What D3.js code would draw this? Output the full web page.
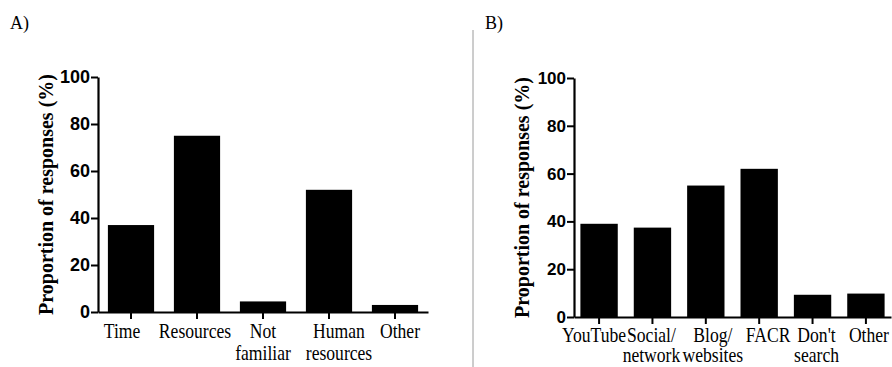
<!DOCTYPE html>
<html>
<head>
<meta charset="utf-8">
<script src="https://cdn.jsdelivr.net/npm/d3@7/dist/d3.min.js"></script>
<style>
  html, body { margin: 0; padding: 0; background: #fff; }
  svg { display: block; }
</style>
</head>
<body>
<svg id="chart" width="892" height="367"></svg>
<script>
// ---- Data ----
const categoriesA = ["Time", "Resources", "Not familiar", "Human resources", "Other"];
const labelLinesA = [["Time"], ["Resources"], ["Not", "familiar"], ["Human", "resources"], ["Other"]];
const valuesA = [37, 75, 4.5, 52, 3];

const categoriesB = ["YouTube", "Social/ network", "Blog/ websites", "FACR", "Don't search", "Other"];
const labelLinesB = [["YouTube"], ["Social/", "network"], ["Blog/", "websites"], ["FACR"], ["Don't", "search"], ["Other"]];
const valuesB = [39, 37.4, 55, 62, 9.3, 9.8];

const yTicks = [0, 20, 40, 60, 80, 100];
const yTitle = "Proportion of responses (%)";
const panelLabels = ["A)", "B)"];

// ---- Drawing ----
const svg = d3.select("#chart");
const serif = "'Liberation Serif', 'DejaVu Serif', serif";
const sans = "'Liberation Sans', Arial, sans-serif";

function panel(cfg) {
  const g = svg.append("g");
  const x = d3.scaleBand().domain(cfg.cats).range([cfg.x0, cfg.x1])
    .paddingInner(0.3).paddingOuter(cfg.padOuter);
  const y = d3.scaleLinear().domain([0, 100]).range([cfg.yBottom, cfg.yTop]);

  // bars
  g.selectAll("rect.bar").data(cfg.values).join("rect")
    .attr("class", "bar")
    .attr("x", (d, i) => x(cfg.cats[i]))
    .attr("width", x.bandwidth())
    .attr("y", d => y(d))
    .attr("height", d => y(0) - y(d))
    .attr("fill", "#000");

  // y axis
  const ya = g.append("g").attr("transform", `translate(${cfg.x0},0)`)
    .call(d3.axisLeft(y).tickValues(yTicks).tickSize(7).tickSizeOuter(0).tickPadding(1));
  ya.select(".domain").attr("stroke", "#000").attr("stroke-width", 2.2);
  ya.selectAll(".tick line").attr("stroke", "#000").attr("stroke-width", 2);
  ya.selectAll(".tick text")
    .attr("font-family", sans).attr("font-weight", "bold")
    .attr("font-size", cfg.yFont).attr("fill", "#000");

  // x axis
  const xa = g.append("g").attr("transform", `translate(0,${cfg.yBottom})`)
    .call(d3.axisBottom(x).tickSize(7).tickSizeOuter(0).tickFormat(""));
  xa.select(".domain").attr("stroke", "#000").attr("stroke-width", 2.2);
  xa.selectAll(".tick line").attr("stroke", "#000").attr("stroke-width", 2);

  // multi-line category labels (condensed serif)
  cfg.cats.forEach((c, i) => {
    const cx = x(c) + x.bandwidth() / 2 + cfg.nudge[i];
    const t = g.append("text")
      .attr("transform", `translate(${cx},${cfg.labelY}) scale(0.88,1)`)
      .attr("text-anchor", "middle")
      .attr("font-family", serif)
      .attr("font-size", 20)
      .attr("fill", "#000");
    cfg.lines[i].forEach((ln, k) => {
      t.append("tspan").attr("x", 0)
        .attr("dy", k === 0 ? 0 : cfg.lineGap).text(ln);
    });
  });

  // y title
  g.append("text")
    .attr("transform", `translate(${cfg.titleX},${(cfg.yTop + cfg.yBottom) / 2}) rotate(-90)`)
    .attr("text-anchor", "middle")
    .attr("font-family", serif).attr("font-weight", "bold")
    .attr("font-size", 20).attr("fill", "#000")
    .text(yTitle);

  // panel label
  g.append("text")
    .attr("x", cfg.labelPX).attr("y", 29)
    .attr("font-family", serif).attr("font-size", 18).attr("fill", "#000")
    .text(cfg.panelLabel);
}

panel({
  cats: categoriesA, lines: labelLinesA, values: valuesA,
  x0: 98, x1: 428, padOuter: 0.15, yBottom: 312, yTop: 77,
  yFont: 18, labelY: 338, lineGap: 22, titleX: 53,
  nudge: [-9, -2, 0, 10, 5],
  labelPX: 10, panelLabel: panelLabels[0]
});

panel({
  cats: categoriesB, lines: labelLinesB, values: valuesB,
  x0: 574, x1: 891, padOuter: 0.12, yBottom: 317, yTop: 78,
  yFont: 17, labelY: 342, lineGap: 20.5, titleX: 529,
  nudge: [-5, -1, 7, 9, 4, 3],
  labelPX: 485, panelLabel: panelLabels[1]
});

// divider
svg.append("line")
  .attr("x1", 473).attr("x2", 473).attr("y1", 30).attr("y2", 367)
  .attr("stroke", "#9a9a9a").attr("stroke-width", 1);
</script>
</body>
</html>
